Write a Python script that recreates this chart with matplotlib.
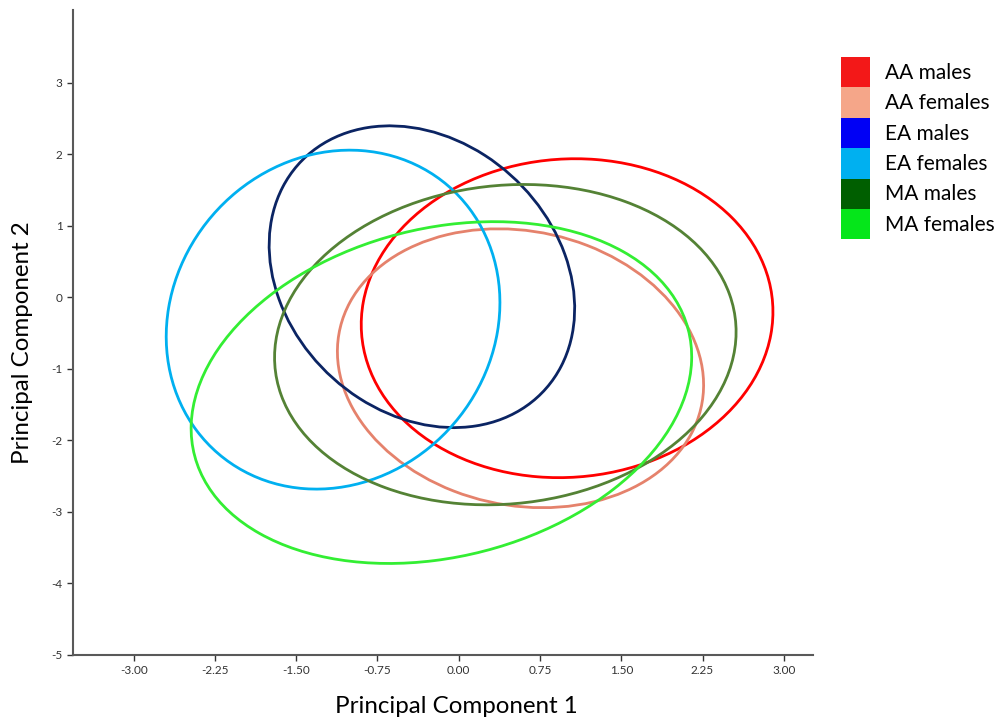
import matplotlib.pyplot as plt
import numpy as np
from matplotlib.patches import Ellipse, Patch

## PCA group ellipses: centre, half-extent on each axis, correlation
groups = ["AA males", "AA females", "EA males", "EA females", "MA males", "MA females"]
center_x = [1.00, 0.57, -0.34, -1.16, 0.43, -0.16]
center_y = [-0.29, -0.99, 0.29, -0.31, -0.66, -1.33]
half_x = [1.90, 1.69, 1.41, 1.54, 2.13, 2.31]
half_y = [2.23, 1.95, 2.11, 2.37, 2.24, 2.39]
corr = [0.04, -0.12, -0.21, 0.10, 0.08, 0.21]

line_colors = ["#ff0000", "#e5826c", "#0b2463", "#00b0f0", "#548235", "#33ee33"]
legend_colors = ["#f31818", "#f5a689", "#0000f5", "#00b0f0", "#005f00", "#05e61a"]

xticks = [-3.00, -2.25, -1.50, -0.75, 0.00, 0.75, 1.50, 2.25, 3.00]
yticks = [-5, -4, -3, -2, -1, 0, 1, 2, 3]

plt.rcParams['font.family'] = ['Lato', 'DejaVu Sans']

fig = plt.figure(figsize=(10.02, 7.2), dpi=100)
ax = fig.add_axes([0.0729, 0.0903, 0.7385, 0.8958])

for i in range(len(groups)):
  #build covariance, then turn it into width/height/angle for the patch
  cov = np.array([[half_x[i]**2, corr[i]*half_x[i]*half_y[i]],
                  [corr[i]*half_x[i]*half_y[i], half_y[i]**2]])
  vals, vecs = np.linalg.eigh(cov)
  angle = np.degrees(np.arctan2(vecs[1, 1], vecs[0, 1]))
  ell = Ellipse((center_x[i], center_y[i]), 2*np.sqrt(vals[1]), 2*np.sqrt(vals[0]),
                angle=angle, fill=False, edgecolor=line_colors[i], linewidth=2)
  ax.add_patch(ell)

ax.set_xlim(-3.56, 3.27)
ax.set_ylim(-5, 4.02)
ax.set_xticks(xticks)
ax.set_xticklabels(["%.2f" % t for t in xticks])
ax.set_yticks(yticks)
ax.set_yticklabels([str(t) for t in yticks])
ax.tick_params(labelsize=8.5, colors="#333333", length=4, width=1, direction='out')
for s in ['top', 'right']:
  ax.spines[s].set_visible(False)
for s in ['left', 'bottom']:
  ax.spines[s].set_color("#595959")
  ax.spines[s].set_linewidth(1.5)

ax.set_xlabel("Principal Component 1", fontsize=17.4, va='center')
ax.set_ylabel("Principal Component 2", fontsize=17.4, va='center')
ax.xaxis.set_label_coords(0.5176, -0.0806)
ax.yaxis.set_label_coords(-0.0689, 0.485)

handles = [Patch(facecolor=c, edgecolor='none') for c in legend_colors]
fig.legend(handles, groups, loc='upper left', bbox_to_anchor=(0.839, 0.921),
           frameon=False, fontsize=15, borderpad=0, labelspacing=0,
           handlelength=1.39, handleheight=1.87, handletextpad=0.72, borderaxespad=0)

plt.savefig("out.png", dpi=100)
